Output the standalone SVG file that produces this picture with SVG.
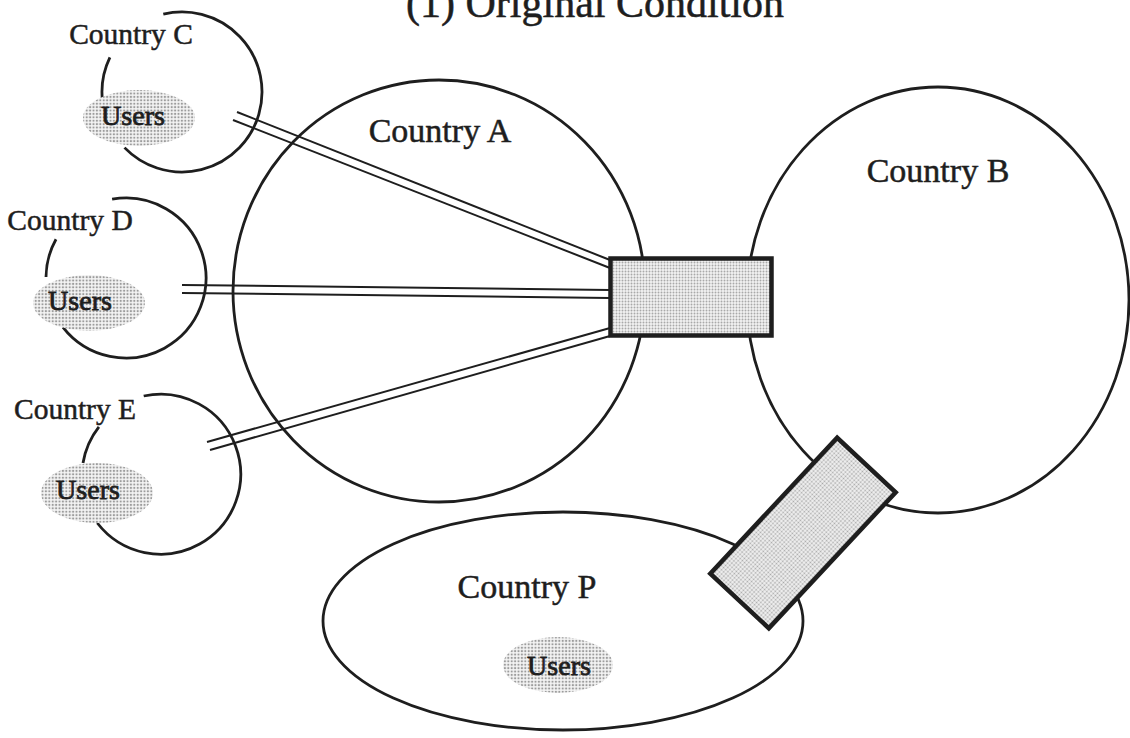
<svg xmlns="http://www.w3.org/2000/svg" width="1130" height="738" viewBox="0 0 1130 738">
  <defs>
    <!-- halftone screen used for gateways and user areas -->
    <pattern id="dots" width="3" height="3" patternUnits="userSpaceOnUse">
      <rect width="3" height="3" fill="#f2f2f2"/>
      <circle cx="1.5" cy="1.5" r="0.95" fill="#a9a9a9"/>
    </pattern>
    <pattern id="coarse" width="3.4" height="3.4" patternUnits="userSpaceOnUse">
      <rect width="3.4" height="3.4" fill="#f4f4f4"/>
      <circle cx="1.7" cy="1.7" r="1.1" fill="#9c9c9c"/>
    </pattern>
    <filter id="soft" x="-20%" y="-30%" width="140%" height="160%">
      <feGaussianBlur stdDeviation="0.7"/>
    </filter>
    <style>
      .ring { fill: none; stroke: #1e1e1e; stroke-width: 2.8; }
      .link { fill: none; stroke: #1e1e1e; stroke-width: 2; }
      .gate { fill: url(#dots); stroke: #1e1e1e; stroke-width: 4.5; }
      .users { fill: url(#coarse); filter: url(#soft); }
      .label { font-family: "Liberation Serif", "Times New Roman", serif; fill: #1e1e1e; stroke: #1e1e1e; stroke-width: 0.5; }
      .big { font-size: 34px; }
      .small { font-size: 29.5px; }
      .u { font-size: 28px; stroke-width: 0.8; }
    </style>
  </defs>

  <rect width="1130" height="738" fill="#ffffff"/>

  <text class="label" x="595" y="17" font-size="42" text-anchor="middle">(1) Original Condition</text>

  <g id="country-a">
    <ellipse class="ring" cx="439" cy="291" rx="206" ry="211"/>
    <text class="label big" x="440" y="142" text-anchor="middle">Country A</text>
  </g>

  <g id="country-b">
    <ellipse class="ring" cx="938" cy="300" rx="191" ry="213"/>
    <text class="label big" x="938" y="182" text-anchor="middle">Country B</text>
  </g>

  <g id="country-p">
    <ellipse class="ring" cx="563" cy="621" rx="240" ry="109"/>
    <text class="label big" x="527" y="598" text-anchor="middle">Country P</text>
    <ellipse class="users" cx="558" cy="665" rx="55" ry="28"/>
    <text class="label u" x="559" y="675" text-anchor="middle">Users</text>
  </g>

  <g id="country-c">
    <path class="ring" d="M163.3,14.2 A80,80 0 1 1 124.5,147.6 M109.9,57.4 A80,80 0 0 0 102.4,100.4"/>
    <text class="label small" x="131" y="44" text-anchor="middle">Country C</text>
    <ellipse class="users" cx="139" cy="118" rx="56" ry="28"/>
    <text class="label u" x="133" y="125" text-anchor="middle">Users</text>
  </g>

  <g id="country-d">
    <path class="ring" d="M112.1,199.2 A80,80 0 1 1 63,327.3 M56,239.2 A80,80 0 0 0 46,277"/>
    <text class="label small" x="70" y="230" text-anchor="middle">Country D</text>
    <ellipse class="users" cx="89" cy="303" rx="56" ry="28"/>
    <text class="label u" x="80" y="310" text-anchor="middle">Users</text>
  </g>

  <g id="country-e">
    <path class="ring" d="M143.7,396 A80,80 0 1 1 97.3,523 M98.9,426.9 A80,80 0 0 0 83,463.1"/>
    <text class="label small" x="75" y="419" text-anchor="middle">Country E</text>
    <ellipse class="users" cx="97" cy="493" rx="56" ry="30"/>
    <text class="label u" x="88" y="499" text-anchor="middle">Users</text>
  </g>

  <g id="connectors">
    <line class="link" x1="237" y1="112" x2="610" y2="260"/>
    <line class="link" x1="233" y1="120" x2="610" y2="268"/>
    <line class="link" x1="182" y1="285" x2="610" y2="290"/>
    <line class="link" x1="182" y1="293" x2="610" y2="298"/>
    <line class="link" x1="207" y1="442" x2="610" y2="328"/>
    <line class="link" x1="210" y1="450" x2="610" y2="336"/>
  </g>

  <g id="gateway-ab">
    <rect class="gate" x="610.5" y="258.5" width="161" height="77"/>
  </g>

  <g id="gateway-bp">
    <rect class="gate" x="-40" y="-93" width="80" height="186" transform="translate(803,533) rotate(43)"/>
  </g>
</svg>
